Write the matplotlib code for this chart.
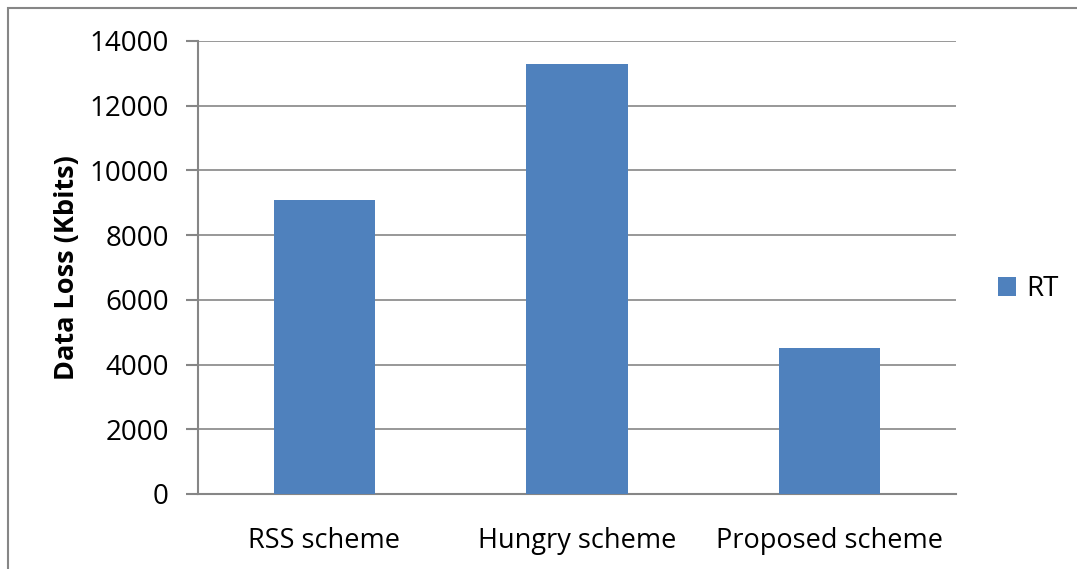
import matplotlib
matplotlib.use("Agg")
import matplotlib.pyplot as plt
from matplotlib.patches import Rectangle, Patch

plt.rcParams['font.family'] = ['Open Sans', 'DejaVu Sans']

categories = ["RSS scheme", "Hungry scheme", "Proposed scheme"]
rt_values = [9100, 13300, 4500]
series_name = "RT"
y_ticks = [0, 2000, 4000, 6000, 8000, 10000, 12000, 14000]

W, H = 1077, 569
fig = plt.figure(figsize=(W / 100, H / 100), dpi=100)
fig.patch.set_facecolor("white")

# outer chart border
fig.patches.append(Rectangle((8 / W, -0.1), 1.2, 1.1 - 8 / H,
                             transform=fig.transFigure, fill=False,
                             edgecolor="#868686", linewidth=1.5))

ax = fig.add_axes([198 / W, 1 - 494 / H, (956 - 198) / W, (494 - 41) / H])
grid_c = "#868686"
bar_c = "#4F81BD"

x = list(range(len(categories)))
ax.bar(x, rt_values, width=0.4, color=bar_c, zorder=3)

ax.set_xlim(-0.5, len(categories) - 0.5)
ax.set_ylim(0, 14000)
ax.set_yticks(y_ticks)
ax.set_yticklabels([str(v) for v in y_ticks], fontsize=20)
ax.set_xticks(x)
ax.set_xticklabels(categories, fontsize=19.5)
ax.yaxis.grid(True, color=grid_c, linewidth=1.2, zorder=0)
ax.set_axisbelow(True)

for s in ["top", "right"]:
    ax.spines[s].set_visible(False)
ax.spines["left"].set_color(grid_c)
ax.spines["left"].set_linewidth(1.5)
ax.spines["bottom"].set_color(grid_c)
ax.spines["bottom"].set_linewidth(1.5)
ax.tick_params(axis="y", length=9, width=1.5, color=grid_c, pad=12)
ax.tick_params(axis="x", length=0, pad=24)

ax.set_ylabel("Data Loss (Kbits)", fontsize=19.5, fontweight="bold", labelpad=7)

fig.legend(handles=[Patch(facecolor=bar_c, edgecolor="none", label=series_name)],
           loc="center left", bbox_to_anchor=(998 / W, 1 - 289 / H),
           frameon=False, fontsize=20, handlelength=0.65, handleheight=0.65,
           handletextpad=0.35, borderaxespad=0, borderpad=0)

fig.savefig("out.png", dpi=100, facecolor="white")
